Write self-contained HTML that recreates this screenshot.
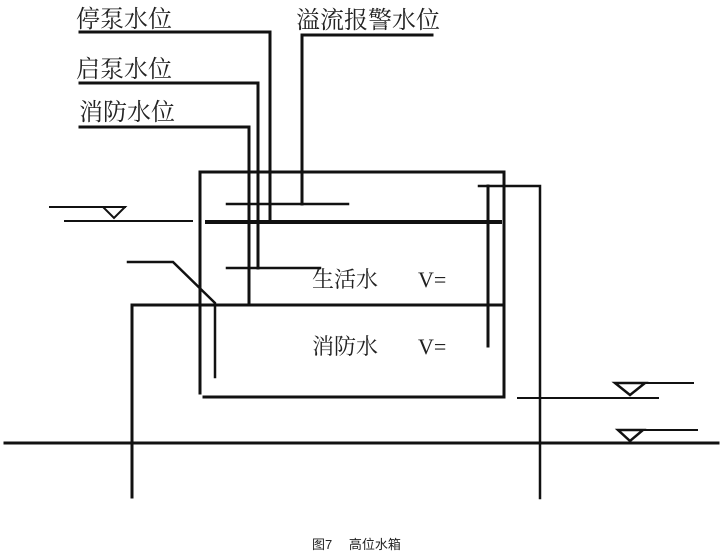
<!DOCTYPE html>
<html><head><meta charset="utf-8"><style>
html,body{margin:0;padding:0;background:#fff;}
svg{display:block}
text{font-family:"Liberation Serif","Noto Serif CJK SC","Noto Sans CJK SC",serif;fill:#222}
</style></head><body>
<svg width="727" height="557" viewBox="0 0 727 557" xmlns="http://www.w3.org/2000/svg">
<g stroke="#111" stroke-width="3" fill="none" stroke-linecap="square">
<polyline points="80,32 270,32 270,220"/>
<polyline points="80,83 258,83 258,268"/>
<polyline points="80,127 249,127 249,304"/>
<polyline points="432,35 302,35 302,204"/>
<polyline points="200,393 200,172 504,172 504,397 204,397"/>
<line x1="227" y1="204" x2="348" y2="204" stroke-width="2.5"/>
<line x1="207" y1="222" x2="500" y2="222" stroke-width="4"/>
<line x1="227" y1="268" x2="320" y2="268" stroke-width="2.5"/>
<polyline points="132,497 132,305 504,305"/>
<polyline points="128,262 173,262 215,303 215,377" stroke-width="2.5"/>
<line x1="50" y1="207" x2="125" y2="207" stroke-width="2"/>
<line x1="65" y1="221" x2="192" y2="221" stroke-width="2"/>
<polygon points="103,207 125,207 114,218" stroke-width="2"/>
<line x1="488" y1="186" x2="488" y2="346"/>
<polyline points="479,186 540,186 540,498" stroke-width="2.5"/>
<line x1="518" y1="398" x2="658" y2="398" stroke-width="2"/>
<line x1="615" y1="383" x2="693" y2="383" stroke-width="2"/>
<polygon points="615,383 645,383 630,395" stroke-width="2.5"/>
<line x1="5" y1="443" x2="718" y2="443"/>
<line x1="618" y1="430" x2="697" y2="430" stroke-width="2"/>
<polygon points="618,430 643,430 630,441" stroke-width="2.5"/>
</g>
<g font-size="24">
<text x="76" y="27">停泵水位</text>
<text x="76" y="77">启泵水位</text>
<text x="79" y="120">消防水位</text>
<text x="296" y="28">溢流报警水位</text>
<text x="312" y="287" font-size="22">生活水</text>
<text x="418" y="287" font-size="22">V=</text>
<text x="312" y="354" font-size="22">消防水</text>
<text x="418" y="354" font-size="22">V=</text>
</g>
<text x="312" y="549" font-size="13" style="font-family:'Liberation Sans','Noto Sans CJK SC',sans-serif">图7　 高位水箱</text>
</svg>
</body></html>
